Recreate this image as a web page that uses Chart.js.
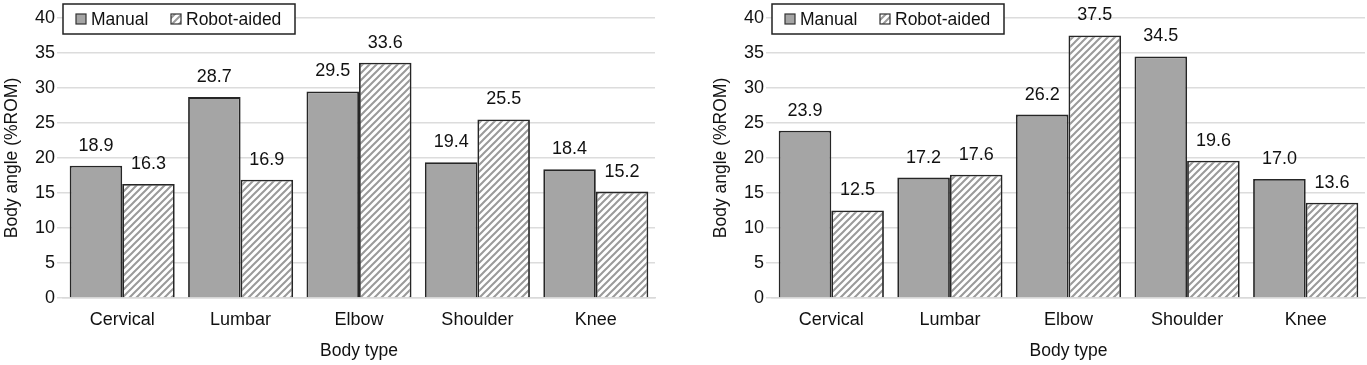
<!DOCTYPE html>
<html>
<head>
<meta charset="utf-8">
<script src="https://cdn.jsdelivr.net/npm/chart.js@4.4.0/dist/chart.umd.min.js"></script>
<style>
  html, body { margin: 0; padding: 0; background: #fff; }
  .wrap { display: flex; width: 1367px; height: 365px; }
  .box { position: relative; height: 365px; }
</style>
</head>
<body>
<div class="wrap">
  <div class="box" style="width:683px"><canvas id="chartLeft"></canvas></div>
  <div class="box" style="width:684px"><canvas id="chartRight"></canvas></div>
</div>
<script>
// Data
const categories = ['Cervical', 'Lumbar', 'Elbow', 'Shoulder', 'Knee'];
const seriesNames = ['Manual', 'Robot-aided'];
const leftManual = [18.9, 28.7, 29.5, 19.4, 18.4];
const leftRobot = [16.3, 16.9, 33.6, 25.5, 15.2];
const rightManual = [23.9, 17.2, 26.2, 34.5, 17.0];
const rightRobot = [12.5, 17.6, 37.5, 19.6, 13.6];
const yTicks = [0, 5, 10, 15, 20, 25, 30, 35, 40];

const FONT = "'Liberation Sans', Arial, sans-serif";
Chart.defaults.font.family = FONT;
Chart.defaults.font.size = 18;
Chart.defaults.color = '#111';

// Diagonal hatch for the robot-aided bars
function makeHatch() {
    const c = document.createElement('canvas');
    c.width = 7; c.height = 7;
    const g = c.getContext('2d');
    g.fillStyle = '#fff';
    g.fillRect(0, 0, 7, 7);
    g.strokeStyle = '#9a9a9a';
    g.lineWidth = 2;
    g.beginPath();
    g.moveTo(-2, 9); g.lineTo(9, -2);
    g.moveTo(-2, 2); g.lineTo(2, -2);
    g.moveTo(5, 9); g.lineTo(9, 5);
    g.stroke();
    return g.createPattern(c, 'repeat');
}
const hatch = makeHatch();

// Value labels above each bar
const valueLabels = {
    id: 'valueLabels',
    afterDatasetsDraw(chart) {
        const ctx = chart.ctx;
        ctx.save();
        ctx.font = '18px ' + FONT;
        ctx.fillStyle = '#111';
        ctx.textAlign = 'center';
        ctx.textBaseline = 'middle';
        chart.data.datasets.forEach((ds, i) => {
            chart.getDatasetMeta(i).data.forEach((bar, j) => {
                ctx.fillText(ds.data[j].toFixed(1), bar.x, bar.y - 20);
            });
        });
        ctx.restore();
    }
};

// Boxed legend sitting inside the plot, top left
const boxLegend = {
    id: 'boxLegend',
    afterDraw(chart) {
        const ctx = chart.ctx;
        const x0 = chart.chartArea.left, y0 = 4;
        ctx.save();
        ctx.fillStyle = '#fff';
        ctx.fillRect(x0, y0, 232, 30);
        ctx.strokeStyle = '#222';
        ctx.lineWidth = 1.5;
        ctx.strokeRect(x0, y0, 232, 30);
        ctx.font = '17.5px ' + FONT;
        ctx.textBaseline = 'middle';
        const items = [{ x: 13, fill: '#a5a5a5' }, { x: 108, fill: hatch }];
        items.forEach((it, i) => {
            ctx.fillStyle = it.fill;
            ctx.fillRect(x0 + it.x, y0 + 10, 10, 10);
            ctx.strokeStyle = '#333';
            ctx.lineWidth = 1.2;
            ctx.strokeRect(x0 + it.x, y0 + 10, 10, 10);
            ctx.fillStyle = '#111';
            ctx.fillText(chart.data.datasets[i].label, x0 + it.x + 15, y0 + 16);
        });
        ctx.restore();
    }
};

function buildChart(id, manual, robot, padLeft, padRight) {
    return new Chart(document.getElementById(id), {
        type: 'bar',
        data: {
            labels: categories,
            datasets: [
                {
                    label: seriesNames[0],
                    data: manual,
                    backgroundColor: '#a5a5a5',
                    borderColor: '#262626',
                    borderWidth: 1.8
                },
                {
                    label: seriesNames[1],
                    data: robot,
                    backgroundColor: hatch,
                    borderColor: '#262626',
                    borderWidth: 1.8
                }
            ]
        },
        options: {
            responsive: true,
            maintainAspectRatio: false,
            animation: false,
            datasets: { bar: { categoryPercentage: 0.887, barPercentage: 1.0 } },
            layout: { padding: { left: padLeft, right: padRight, top: 18, bottom: 0 } },
            plugins: { legend: { display: false }, tooltip: { enabled: false } },
            scales: {
                x: {
                    grid: { display: false, drawTicks: false },
                    border: { color: '#d9d9d9', width: 1.5 },
                    ticks: { padding: 11, color: '#111' },
                    title: { display: true, text: 'Body type', color: '#111', font: { size: 17.5 }, padding: { top: 0, bottom: 3 } },
                    afterFit: (s) => { s.height = 67; }
                },
                y: {
                    min: 0,
                    max: 40,
                    afterBuildTicks: (s) => { s.ticks = yTicks.map(v => ({ value: v })); },
                    grid: { color: '#dcdcdc', lineWidth: 1.5, drawTicks: true, tickLength: 6 },
                    border: { display: false },
                    ticks: { padding: 2, color: '#111' },
                    title: { display: true, text: 'Body angle (%ROM)', color: '#111', font: { size: 17.5 }, padding: { top: 2, bottom: 0 } },
                    afterFit: (s) => { s.width = 63; }
                }
            }
        },
        plugins: [valueLabels, boxLegend]
    });
}

buildChart('chartLeft', leftManual, leftRobot, 0, 28);
buildChart('chartRight', rightManual, rightRobot, 26, 2);
</script>
</body>
</html>
